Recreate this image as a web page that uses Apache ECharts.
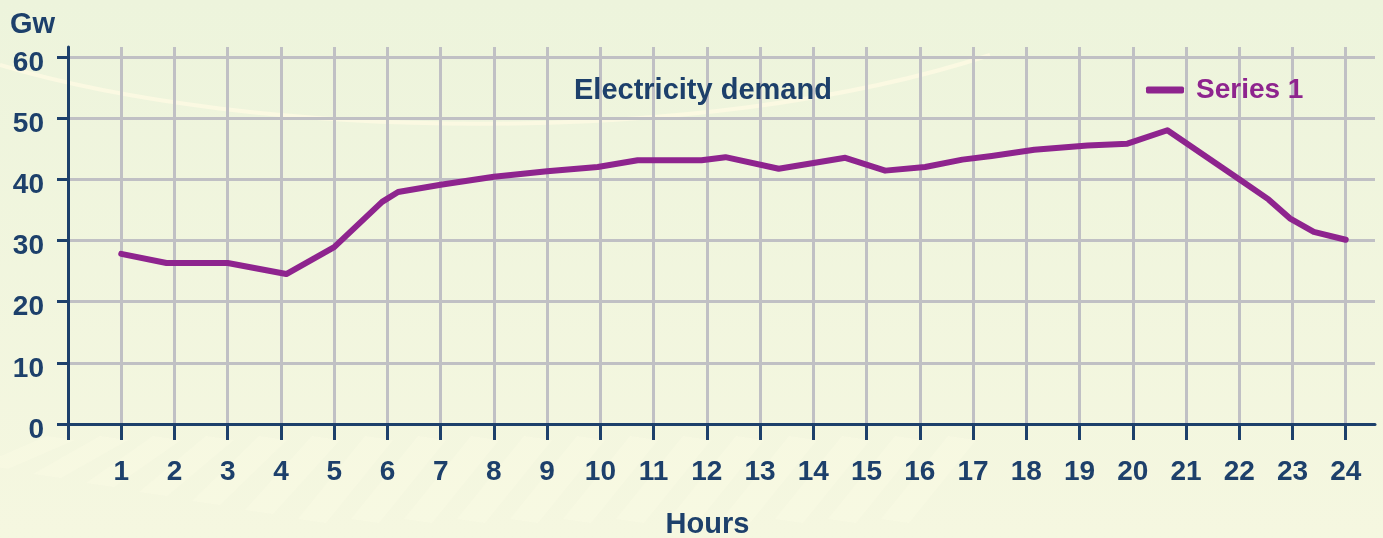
<!DOCTYPE html>
<html>
<head>
<meta charset="utf-8">
<script src="https://cdn.jsdelivr.net/npm/echarts@6/dist/echarts.min.js"></script>
<style>
  html, body { margin: 0; padding: 0; }
  #chart { width: 1383px; height: 538px; }
</style>
</head>
<body>
<div id="chart"></div>
<script>
// hour position (x) and demand in Gw (y)
var hours = [1, 1.85, 3, 4.1, 5, 5.9, 6.2, 7, 8, 9, 9.95, 10.7, 11.9, 12.35, 13.35, 14.6, 15.35, 16.1, 16.8, 17.35, 18.15, 19.15, 19.9, 20.65, 22, 22.55, 22.95, 23.4, 24];
var demand = [27.8, 26.3, 26.3, 24.5, 28.9, 36.3, 37.9, 39.1, 40.4, 41.3, 42, 43.1, 43.1, 43.6, 41.7, 43.5, 41.4, 42, 43.2, 43.8, 44.8, 45.5, 45.8, 48, 40, 36.7, 33.6, 31.4, 30.1];
var xTicks = [0, 1, 2, 3, 4, 5, 6, 7, 8, 9, 10, 11, 12, 13, 14, 15, 16, 17, 18, 19, 20, 21, 22, 23, 24];
var xLabels = [1, 2, 3, 4, 5, 6, 7, 8, 9, 10, 11, 12, 13, 14, 15, 16, 17, 18, 19, 20, 21, 22, 23, 24];
var yTicks = [0, 10, 20, 30, 40, 50, 60];

var navy = '#1d406b';
var purple = '#8e248e';
var gridGrey = '#c0c0c4';
var font = 'Liberation Sans';

var chart = echarts.init(document.getElementById('chart'));

var data = hours.map(function (h, i) { return [h, demand[i]]; });

// faint background decoration: one swoosh and some slanted stripes at the bottom
var deco = [{
  type: 'bezierCurve',
  z: -10,
  silent: true,
  shape: { x1: 0, y1: 65, cpx1: 250, cpy1: 140, cpx2: 700, cpy2: 150, x2: 990, y2: 55 },
  style: { stroke: '#fbf9e2', lineWidth: 4, fill: null }
}];
for (var k = 0; k < 18; k++) {
  var x0 = -20 + k * 53;
  var yb = 465 + Math.min(k, 6) * 9;
  deco.push({
    type: 'polygon',
    z: -10,
    silent: true,
    shape: { points: [[x0, yb], [x0 + 28, yb + 4], [x0 + 95, 440], [x0 + 67, 436]] },
    style: { fill: '#fbfae4', opacity: 0.45 }
  });
}

var option = {
  backgroundColor: {
    type: 'linear', x: 0, y: 0, x2: 0, y2: 1,
    colorStops: [{ offset: 0, color: '#edf4dc' }, { offset: 1, color: '#f5f7e0' }]
  },
  animation: false,
  graphic: deco,
  title: {
    text: 'Electricity demand',
    left: 574,
    top: 76,
    padding: 0,
    textStyle: { color: navy, fontFamily: font, fontWeight: 'bold', fontSize: 29 }
  },
  legend: {
    left: 1146,
    top: 76,
    padding: 0,
    icon: 'roundRect',
    itemWidth: 38,
    itemHeight: 7,
    textStyle: { color: purple, fontFamily: font, fontWeight: 'bold', fontSize: 28, padding: [0, 0, 0, 7] }
  },
  grid: { left: 68, right: 8, top: 47, bottom: 114, outerBoundsMode: 'none', containLabel: false },
  xAxis: {
    type: 'value',
    min: 0,
    max: 24.55,
    interval: 1,
    name: 'Hours',
    nameLocation: 'middle',
    nameGap: 86,
    nameTextStyle: { color: navy, fontFamily: font, fontWeight: 'bold', fontSize: 29, padding: [0, 28, 0, 0] },
    axisLine: { show: true, lineStyle: { color: navy, width: 3 } },
    axisTick: { show: true, length: 16, lineStyle: { color: navy, width: 3 }, customValues: xTicks },
    axisLabel: {
      color: navy, fontFamily: font, fontWeight: 'bold', fontSize: 28,
      margin: 34, customValues: xLabels
    },
    splitLine: { show: true, lineStyle: { color: gridGrey, width: 3 } }
  },
  yAxis: {
    type: 'value',
    min: 0,
    max: 61.6,
    interval: 10,
    name: 'Gw',
    nameLocation: 'end',
    nameGap: 8,
    nameTextStyle: { color: navy, fontFamily: font, fontWeight: 'bold', fontSize: 29, align: 'right', padding: [0, 13, 0, 0] },
    axisLine: { show: true, lineStyle: { color: navy, width: 3 } },
    axisTick: { show: true, length: 11, lineStyle: { color: navy, width: 3 }, customValues: yTicks },
    axisLabel: {
      color: navy, fontFamily: font, fontWeight: 'bold', fontSize: 28,
      margin: 24, verticalAlign: 'top', lineHeight: 12, customValues: yTicks
    },
    splitLine: { show: true, lineStyle: { color: gridGrey, width: 3 } }
  },
  series: [{
    name: 'Series 1',
    type: 'line',
    data: data,
    showSymbol: false,
    symbol: 'none',
    itemStyle: { color: purple },
    lineStyle: { color: purple, width: 6, cap: 'round', join: 'round' }
  }]
};

chart.setOption(option);
</script>
</body>
</html>
